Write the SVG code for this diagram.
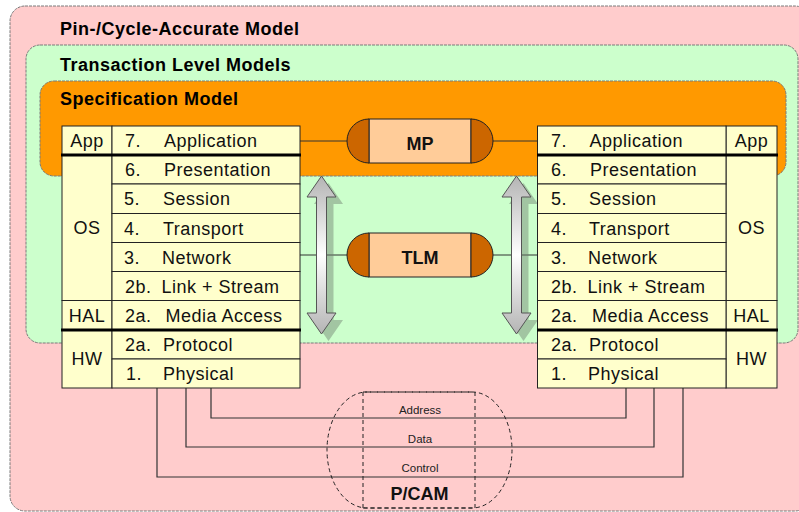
<svg xmlns="http://www.w3.org/2000/svg" width="799" height="512" viewBox="0 0 799 512">
  <style>
    .region-title { font-family: "Liberation Sans", Arial, sans-serif; font-size: 18px; font-weight: bold; letter-spacing: 0.5px; fill: #000; }
    .region { stroke: #7a7a7a; stroke-width: 1; stroke-dasharray: 3 1; }
    .cell { fill: #FFFFCC; stroke: #222; stroke-width: 1; }
    .sep { stroke: #000; stroke-width: 3; }
    .layer { font-family: "Liberation Sans", Arial, sans-serif; font-size: 18px; letter-spacing: 0.5px; fill: #111; }
    .mid { text-anchor: middle; }
    .cap { fill: #CC6600; stroke: #222; stroke-width: 1; }
    .capbody { fill: #FFCC99; stroke: #222; stroke-width: 1; }
    .caplabel { font-family: "Liberation Sans", Arial, sans-serif; font-size: 18px; font-weight: bold; fill: #111; text-anchor: middle; }
    .link { stroke: #333; stroke-width: 1; fill: none; }
    .bus { stroke: #333; stroke-width: 1.2; fill: none; }
    .buslabel { font-family: "Liberation Sans", Arial, sans-serif; font-size: 11.5px; fill: #222; text-anchor: middle; }
    .dash { stroke: #222; stroke-width: 1; stroke-dasharray: 4 3; fill: none; }
    .arrow { fill: url(#arrowFill); stroke: #555; stroke-width: 1; }
    .arrow-shadow { fill: #6f7f6f; opacity: 0.45; }
  </style>
  <defs>
    <linearGradient id="arrowFill" x1="0" y1="0" x2="0" y2="1">
      <stop offset="0" stop-color="#B4B4B4"/>
      <stop offset="0.5" stop-color="#FFFFFF"/>
      <stop offset="1" stop-color="#B4B4B4"/>
    </linearGradient>
    <polygon id="dblArrow" points="0,0 14.5,21 5,21 5,137 14.5,137 0,158 -14.5,137 -5,137 -5,21 -14.5,21"/>
  </defs>

  <!-- nested abstraction levels -->
  <g id="pin-cycle-accurate">
    <rect class="region" x="10" y="6" width="800" height="505" rx="15" ry="15" fill="#FFCCCC"/>
    <text class="region-title" x="60" y="35">Pin-/Cycle-Accurate Model</text>
  </g>
  <g id="transaction-level">
    <rect class="region" x="26" y="45" width="772" height="298" rx="14" ry="14" fill="#CCFFCC"/>
    <text class="region-title" x="60" y="71">Transaction Level Models</text>
  </g>
  <g id="specification">
    <rect class="region" x="40" y="81" width="746" height="95" rx="14" ry="14" fill="#FF9900"/>
    <text class="region-title" x="60" y="105">Specification Model</text>
  </g>

  <!-- connectors -->
  <g id="connectors">
    <line class="link" x1="300" y1="141" x2="347" y2="141"/>
    <line class="link" x1="493" y1="141" x2="538" y2="141"/>
    <line class="link" x1="300" y1="255" x2="347" y2="255" stroke="#555"/>
    <line class="link" x1="493" y1="255" x2="538" y2="255" stroke="#555"/>
    <polyline class="bus" points="211,388 211,418 626,418 626,388"/>
    <polyline class="bus" points="186,388 186,447 654,447 654,388"/>
    <polyline class="bus" points="157,388 157,477 683,477 683,388"/>
    <text class="buslabel" x="420" y="414">Address</text>
    <text class="buslabel" x="420" y="443">Data</text>
    <text class="buslabel" x="420" y="472">Control</text>
  </g>

  <!-- refinement arrows -->
  <g id="arrow-left">
    <use href="#dblArrow" class="arrow-shadow" transform="translate(328.5,183)"/>
    <use href="#dblArrow" class="arrow" transform="translate(321.5,176)"/>
  </g>
  <g id="arrow-right">
    <use href="#dblArrow" class="arrow-shadow" transform="translate(523.5,183)"/>
    <use href="#dblArrow" class="arrow" transform="translate(516.5,176)"/>
  </g>

  <!-- left protocol stack -->
  <g id="stack-left">
    <rect class="cell" x="62" y="126" width="50" height="29"/>
    <rect class="cell" x="62" y="155" width="50" height="145.5"/>
    <rect class="cell" x="62" y="300.5" width="50" height="29.5"/>
    <rect class="cell" x="62" y="330" width="50" height="58"/>
    <rect class="cell" x="112" y="126" width="188" height="29"/>
    <rect class="cell" x="112" y="155" width="188" height="29"/>
    <rect class="cell" x="112" y="184" width="188" height="29.5"/>
    <rect class="cell" x="112" y="213.5" width="188" height="29"/>
    <rect class="cell" x="112" y="242.5" width="188" height="29"/>
    <rect class="cell" x="112" y="271.5" width="188" height="29"/>
    <rect class="cell" x="112" y="300.5" width="188" height="29.5"/>
    <rect class="cell" x="112" y="330" width="188" height="29"/>
    <rect class="cell" x="112" y="359" width="188" height="29"/>
    <line class="sep" x1="61" y1="155" x2="301" y2="155"/>
    <line class="sep" x1="61" y1="330" x2="301" y2="330"/>
    <text class="layer mid" x="87" y="147">App</text>
    <text class="layer mid" x="87" y="234">OS</text>
    <text class="layer mid" x="87" y="321.5">HAL</text>
    <text class="layer mid" x="87" y="365">HW</text>
    <text class="layer" x="125" y="147">7.</text><text class="layer" x="164" y="147">Application</text>
    <text class="layer" x="125" y="176">6.</text><text class="layer" x="164" y="176">Presentation</text>
    <text class="layer" x="124" y="205">5.</text><text class="layer" x="163" y="205">Session</text>
    <text class="layer" x="124" y="234.5">4.</text><text class="layer" x="163" y="234.5">Transport</text>
    <text class="layer" x="124" y="263.5">3.</text><text class="layer" x="162" y="263.5">Network</text>
    <text class="layer" x="125" y="292.5">2b.</text><text class="layer" x="161.5" y="292.5">Link + Stream</text>
    <text class="layer" x="125" y="321.5">2a.</text><text class="layer" x="165.5" y="321.5">Media Access</text>
    <text class="layer" x="125" y="351">2a.</text><text class="layer" x="163" y="351">Protocol</text>
    <text class="layer" x="126" y="380">1.</text><text class="layer" x="163" y="380">Physical</text>
  </g>

  <!-- right protocol stack -->
  <g id="stack-right">
    <rect class="cell" x="726" y="126" width="51" height="29"/>
    <rect class="cell" x="726" y="155" width="51" height="145.5"/>
    <rect class="cell" x="726" y="300.5" width="51" height="29.5"/>
    <rect class="cell" x="726" y="330" width="51" height="58"/>
    <rect class="cell" x="537.5" y="126" width="188.5" height="29"/>
    <rect class="cell" x="537.5" y="155" width="188.5" height="29"/>
    <rect class="cell" x="537.5" y="184" width="188.5" height="29.5"/>
    <rect class="cell" x="537.5" y="213.5" width="188.5" height="29"/>
    <rect class="cell" x="537.5" y="242.5" width="188.5" height="29"/>
    <rect class="cell" x="537.5" y="271.5" width="188.5" height="29"/>
    <rect class="cell" x="537.5" y="300.5" width="188.5" height="29.5"/>
    <rect class="cell" x="537.5" y="330" width="188.5" height="29"/>
    <rect class="cell" x="537.5" y="359" width="188.5" height="29"/>
    <line class="sep" x1="537" y1="155" x2="778" y2="155"/>
    <line class="sep" x1="537" y1="330" x2="778" y2="330"/>
    <text class="layer mid" x="751.5" y="147">App</text>
    <text class="layer mid" x="751.5" y="234">OS</text>
    <text class="layer mid" x="751.5" y="321.5">HAL</text>
    <text class="layer mid" x="751.5" y="365">HW</text>
    <text class="layer" x="551" y="147">7.</text><text class="layer" x="589.5" y="147">Application</text>
    <text class="layer" x="551" y="176">6.</text><text class="layer" x="590" y="176">Presentation</text>
    <text class="layer" x="551" y="205">5.</text><text class="layer" x="589" y="205">Session</text>
    <text class="layer" x="551" y="234.5">4.</text><text class="layer" x="589" y="234.5">Transport</text>
    <text class="layer" x="551" y="263.5">3.</text><text class="layer" x="588" y="263.5">Network</text>
    <text class="layer" x="551" y="292.5">2b.</text><text class="layer" x="587.5" y="292.5">Link + Stream</text>
    <text class="layer" x="551" y="321.5">2a.</text><text class="layer" x="592" y="321.5">Media Access</text>
    <text class="layer" x="551" y="351">2a.</text><text class="layer" x="589" y="351">Protocol</text>
    <text class="layer" x="551" y="380">1.</text><text class="layer" x="588" y="380">Physical</text>
  </g>

  <!-- message-passing channel -->
  <g id="mp">
    <rect class="capbody" x="369" y="119" width="102" height="44"/>
    <path class="cap" d="M369,119 A22,22 0 0 0 369,163 Z"/>
    <path class="cap" d="M471,119 A22,22 0 0 1 471,163 Z"/>
    <text class="caplabel" x="420" y="150">MP</text>
  </g>

  <!-- transaction-level channel -->
  <g id="tlm">
    <rect class="capbody" x="369" y="233" width="102" height="44"/>
    <path class="cap" d="M369,233 A22,22 0 0 0 369,277 Z"/>
    <path class="cap" d="M471,233 A22,22 0 0 1 471,277 Z"/>
    <text class="caplabel" x="420" y="264">TLM</text>
  </g>

  <!-- pin-accurate bus channel -->
  <g id="pcam">
    <rect class="dash" x="327" y="392" width="185" height="116" rx="40" ry="58"/>
    <line class="dash" x1="363" y1="392" x2="363" y2="508"/>
    <line class="dash" x1="475" y1="392" x2="475" y2="508"/>
    <line class="dash" x1="363" y1="392" x2="475" y2="392"/>
    <line class="dash" x1="363" y1="508" x2="475" y2="508"/>
    <text class="caplabel" x="419.5" y="500">P/CAM</text>
  </g>
</svg>
